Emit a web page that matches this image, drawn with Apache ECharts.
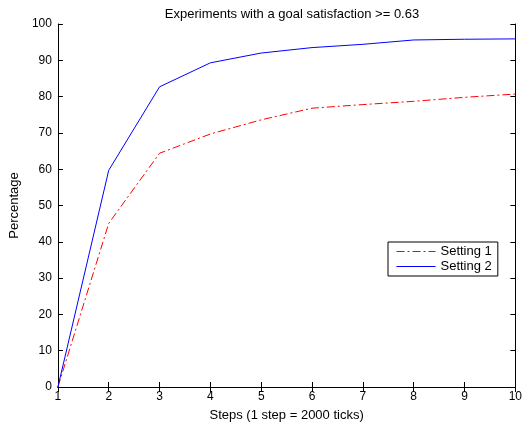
<!DOCTYPE html>
<html>
<head>
<meta charset="utf-8">
<style>
html, body { margin: 0; padding: 0; background: #fff; }
#main { width: 525px; height: 427px; }
</style>
</head>
<body>
<div id="main"></div>
<script src="https://cdn.jsdelivr.net/npm/echarts@6/dist/echarts.min.js"></script>
<script>
var steps = [1, 2, 3, 4, 5, 6, 7, 8, 9, 10];
var setting1 = [0, 45.1, 64.4, 69.7, 73.6, 76.8, 77.8, 78.7, 79.8, 80.7];
var setting2 = [0, 59.7, 82.7, 89.3, 92.0, 93.5, 94.4, 95.6, 95.8, 95.9];

function pairs(vals) {
    var out = [];
    for (var i = 0; i < steps.length; i++) out.push([steps[i], vals[i]]);
    return out;
}

var font = 'Liberation Sans, Arial, sans-serif';
var chart = echarts.init(document.getElementById('main'));

var boxAxis = {
    axisLine: { show: true, lineStyle: { color: '#000', width: 1 } },
    axisTick: { show: true, inside: true, length: 5, lineStyle: { color: '#000' } },
    splitLine: { show: false }
};

var option = {
    animation: false,
    textStyle: { fontFamily: font },
    title: {
        text: 'Experiments with a goal satisfaction >= 0.63',
        left: 287, top: 3, textAlign: 'center',
        textStyle: { fontSize: 13, fontWeight: 'normal', color: '#000', fontFamily: font }
    },
    grid: { left: 57, right: 8, top: 24, bottom: 37 },
    legend: {
        orient: 'vertical',
        left: 388, top: 242,
        padding: [3, 6, 3, 8],
        itemGap: 2,
        itemWidth: 39, itemHeight: 12,
        borderColor: '#000', borderWidth: 1,
        backgroundColor: '#fff',
        itemStyle: { opacity: 0 },
        lineStyle: { width: 1 },
        textStyle: { fontSize: 13, color: '#000', fontFamily: font },
        data: ['Setting 1', 'Setting 2']
    },
    xAxis: [
        Object.assign({}, boxAxis, {
            type: 'value', min: 1, max: 10, interval: 1, position: 'bottom',
            name: 'Steps (1 step = 2000 ticks)', nameLocation: 'middle', nameGap: 22,
            nameTextStyle: { fontSize: 13, color: '#000' },
            axisLabel: { fontSize: 12, color: '#000', margin: 4 }
        }),
        Object.assign({}, boxAxis, {
            type: 'value', min: 1, max: 10, interval: 1, position: 'top',
            axisLabel: { show: false }
        })
    ],
    yAxis: [
        Object.assign({}, boxAxis, {
            type: 'value', min: 0, max: 100, interval: 10, position: 'left',
            name: 'Percentage', nameLocation: 'middle', nameGap: 33, nameRotate: 90,
            nameTextStyle: { fontSize: 13, color: '#000' },
            axisLabel: { fontSize: 12, color: '#000', margin: 6 }
        }),
        Object.assign({}, boxAxis, {
            type: 'value', min: 0, max: 100, interval: 10, position: 'right',
            axisLabel: { show: false }
        })
    ],
    series: [
        {
            name: 'Setting 1', type: 'line', symbol: 'none',
            data: pairs(setting1),
            lineStyle: { color: '#ff0000', width: 1, type: [8, 3, 2, 3] },
            itemStyle: { color: '#ff0000' }
        },
        {
            name: 'Setting 2', type: 'line', symbol: 'none',
            data: pairs(setting2),
            lineStyle: { color: '#0000ff', width: 1 },
            itemStyle: { color: '#0000ff' }
        }
    ]
};
chart.setOption(option);
</script>
</body>
</html>
